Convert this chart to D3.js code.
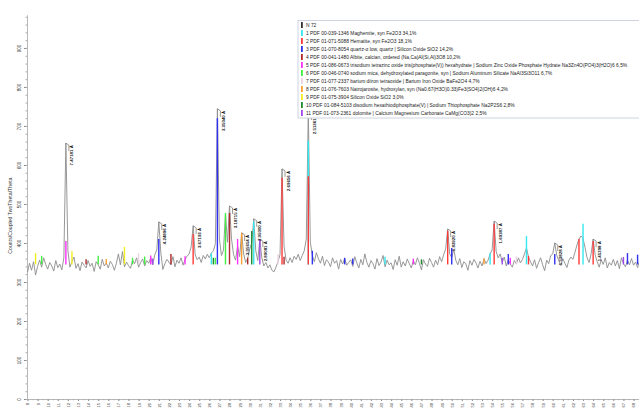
<!DOCTYPE html>
<html>
<head>
<meta charset="utf-8">
<script src="https://cdn.jsdelivr.net/npm/d3@7"></script>
<style>
  body { margin: 0; background: #fff; }
  svg { display: block; font-family: "Liberation Sans", Arial, sans-serif; }
</style>
</head>
<body>
<script>
// measured pattern, 2Theta from 8 deg in 0.2 deg steps
const thetaStart = 8;
const thetaStep = 0.2;
const counts = [
  325, 348, 330, 352, 318, 340, 356, 338, 362, 345,
  333, 350, 341, 328, 355, 337, 346, 331, 362, 656,
  380, 338, 352, 364, 335, 347, 329, 351, 343, 336,
  355, 340, 348, 327, 352, 344, 333, 358, 341, 349,
  336, 353, 345, 330, 348, 372, 344, 378, 339, 351,
  342, 335, 356, 347, 362, 338, 350, 359, 341, 355,
  348, 363, 344, 370, 382, 454, 375, 332, 347, 358,
  351, 344, 365, 339, 356, 348, 362, 343, 358, 366,
  372, 390, 444, 370, 357, 364, 350, 368, 359, 371,
  362, 374, 380, 398, 744, 410, 368, 381, 474, 402,
  495, 410, 370, 356, 392, 365, 426, 372, 350, 361,
  384, 400, 462, 380, 355, 410, 362, 341, 350, 336,
  344, 330, 326, 338, 352, 370, 590, 392, 356, 348,
  362, 350, 366, 358, 371, 355, 368, 380, 410, 736,
  402, 368, 352, 375, 360, 348, 366, 342, 357, 351,
  339, 362, 348, 355, 333, 358, 346, 361, 343, 350,
  357, 340, 365, 349, 336, 358, 344, 372, 350, 338,
  355, 347, 333, 360, 342, 351, 368, 339, 356, 344,
  349, 332, 357, 343, 366, 338, 352, 341, 359, 347,
  336, 355, 344, 362, 348, 331, 357, 346, 340, 361,
  350, 338, 356, 344, 365, 352, 370, 385, 436, 372,
  362, 384, 356, 344, 360, 337, 352, 346, 330, 355,
  343, 358, 349, 336, 353, 341, 360, 347, 356, 372,
  382, 456, 378, 362, 372, 350, 364, 341, 357, 346,
  338, 355, 346, 362, 349, 358, 372, 387, 364, 352,
  341, 357, 335, 350, 362, 344, 329, 356, 347, 368,
  372, 400, 368, 355, 342, 360, 348, 337, 356, 364,
  358, 376, 395, 410, 418, 412, 388, 362, 350, 372,
  410, 370, 352, 338, 357, 345, 362, 336, 350, 343,
  358, 341, 355, 334, 362, 347, 339, 356, 344, 360,
  343, 351, 337, 355
];
const background = 345;

const yTicks = [0, 100, 200, 300, 400, 500, 600, 700, 800, 900];

const phaseNames = [
  "N 72",
  "1 PDF 00-039-1346 Maghemite, syn Fe2O3 34,1%",
  "2 PDF 01-071-5088 Hematite, syn Fe2O3 18,1%",
  "3 PDF 01-070-8054 quartz-α low, quartz | Silicon Oxide SiO2 14,2%",
  "4 PDF 00-041-1480 Albite, calcian, ordered (Na,Ca)Al(Si,Al)3O8 10,2%",
  "5 PDF 01-086-0673 trisodium tetrazinc oxide tris(phosphate(V)) hexahydrate | Sodium Zinc Oxide Phosphate Hydrate Na3Zn4O(PO4)3(H2O)6 6,5%",
  "6 PDF 00-046-0740 sodium mica, dehydroxylated paragonite, syn | Sodium Aluminum Silicate NaAl3Si3O11 6,7%",
  "7 PDF 01-077-2337 barium diiron tetraoxide | Barium Iron Oxide BaFe2O4 4,7%",
  "8 PDF 01-076-7603 Natrojarosite, hydroxylan, syn (Na0.67(H3O)0.33)Fe3(SO4)2(OH)6 4,2%",
  "9 PDF 01-075-3904 Silicon Oxide SiO2 3,0%",
  "10 PDF 01-084-5103 disodium hexathiodiphosphate(V) | Sodium Thiophosphate Na2P2S6 2,8%",
  "11 PDF 01-073-2361 dolomite | Calcium Magnesium Carbonate CaMg(CO3)2 2,5%"
];
const phaseColors = ["#333333", "#33e8f0", "#ff3838", "#3030f0", "#b02828", "#ff30ff",
  "#40f040", "#ecd4e6", "#ffa030", "#f0f020", "#208a30", "#a048f0"];

// stick patterns per phase: [2Theta, counts at stick top]
const sticks1 = [[26.2, 374], [30.4, 456], [35.8, 662], [43.4, 365], [53.8, 374], [57.4, 418], [63.0, 449]];
const sticks2 = [[24.4, 423], [33.2, 567], [35.8, 571], [49.6, 431], [54.2, 449], [57.6, 367], [62.6, 410], [64.0, 405]];
const sticks3 = [[21.0, 410], [26.8, 720], [36.2, 380], [39.4, 362], [40.2, 360], [50.0, 387], [55.6, 372], [60.2, 372], [67.4, 374], [68.4, 370]];
const sticks4 = [[13.8, 358], [22.2, 372], [28.0, 477], [29.8, 362], [33.4, 365]];
const sticks5 = [[11.8, 405], [20.2, 368], [23.6, 366], [28.8, 410], [46.2, 360], [55.8, 362]];
const sticks6 = [[9.4, 367], [15.0, 367], [18.4, 362], [19.6, 365], [26.6, 362], [27.6, 477]];
const sticks7 = [[19.0, 374], [32.8, 372], [56.4, 366]];
const sticks8 = [[15.8, 359], [29.2, 426], [53.2, 360]];
const sticks9 = [[8.8, 374], [12.4, 379], [17.6, 390]];
const sticks10 = [[26.4, 362], [30.2, 431], [47.0, 358]];
const sticks11 = [[20.4, 360], [31.0, 408], [55.0, 362], [67.0, 364]];
const phaseSticks = [[], sticks1, sticks2, sticks3, sticks4, sticks5, sticks6, sticks7, sticks8, sticks9, sticks10, sticks11];

// d-spacing labels
const peakTheta = [11.8, 21.0, 24.4, 26.8, 28.0, 29.2, 30.4, 31.0, 33.2, 35.8, 49.6, 54.2, 60.2, 64.0];
const peakText = ["7.47181 Å", "4.24896 Å", "3.67193 Å", "3.35040 Å", "3.18715 Å", "3.05654 Å", "2.95000 Å",
  "2.89081 Å", "2.69656 Å", "2.51361 Å", "1.83920 Å", "1.69387 Å", "1.53828 Å", "1.45298 Å"];

const width = 639, height = 409;

const x = d3.scaleLinear().domain([thetaStart, 68.6]).range([27.5, 639.6]);
const y = d3.scaleLinear().domain([0, 985]).range([399, 14.8]);

const pattern = counts.map((c, i) => ({t: thetaStart + i * thetaStep, c: c}));
const valueAt = t => counts[Math.round((t - thetaStart) / thetaStep)];

const svg = d3.select("body").append("svg").attr("width", width).attr("height", height);

// axes
const yAxis = svg.append("g")
  .attr("transform", "translate(27,0)")
  .call(d3.axisLeft(y).tickValues(yTicks).tickSize(3).tickSizeOuter(0));
yAxis.select(".domain").attr("stroke", "#b8b8b8");
yAxis.selectAll(".tick line").attr("stroke", "#888");
yAxis.selectAll(".tick text")
  .attr("font-size", "4.5px").attr("fill", "#333")
  .attr("transform", "rotate(-90)").attr("x", 0).attr("y", -6).attr("dy", 0)
  .attr("text-anchor", "middle");
svg.append("g")
  .attr("transform", "translate(27,0)")
  .call(d3.axisLeft(y).tickValues(d3.range(0, 985, 20)).tickSize(1.5).tickFormat(""))
  .call(g => g.select(".domain").remove())
  .selectAll("line").attr("stroke", "#aaa");

const xAxis = svg.append("g")
  .attr("transform", "translate(0,399)")
  .call(d3.axisBottom(x).tickValues(d3.range(8, 69, 1)).tickSize(2).tickSizeOuter(0));
xAxis.select(".domain").attr("stroke", "#b8b8b8");
xAxis.selectAll(".tick line").attr("stroke", "#888");
xAxis.selectAll(".tick text")
  .attr("font-size", "4px").attr("fill", "#333")
  .attr("transform", "rotate(-90)").attr("x", -4).attr("y", 0).attr("dy", "0.35em")
  .attr("text-anchor", "end");
svg.append("g")
  .attr("transform", "translate(0,399)")
  .call(d3.axisBottom(x).tickValues(d3.range(8, 68.6, 0.5)).tickSize(1.2).tickFormat(""))
  .call(g => g.select(".domain").remove())
  .selectAll("line").attr("stroke", "#aaa");

svg.append("text")
  .attr("transform", `translate(12,${y(470)}) rotate(-90)`)
  .attr("text-anchor", "middle")
  .attr("font-size", "5.2px").attr("fill", "#333")
  .text("Counts/Coupled TwoTheta/Theta");

// measured pattern
const line = d3.line().x(d => x(d.t)).y(d => y(d.c));
svg.append("path")
  .datum(pattern)
  .attr("fill", "none")
  .attr("stroke", "#8c8c8c")
  .attr("stroke-width", 0.9)
  .attr("stroke-linejoin", "round")
  .attr("d", line);

// phase sticks
phaseSticks.forEach((list, p) => {
  svg.append("g").selectAll("line")
    .data(list)
    .join("line")
    .attr("x1", d => x(d[0])).attr("x2", d => x(d[0]))
    .attr("y1", y(background)).attr("y2", d => y(d[1]))
    .attr("stroke", phaseColors[p])
    .attr("stroke-width", 1.4);
});

// peak labels
const labels = svg.append("g").selectAll("g")
  .data(peakTheta.map((t, i) => ({t: t, text: peakText[i]})))
  .join("g")
  .attr("transform", d => `translate(${x(d.t)},${y(valueAt(d.t))})`);
labels.append("path")
  .attr("d", "M0,0L3,2L3,8")
  .attr("fill", "none").attr("stroke", "#555").attr("stroke-width", 0.6);
labels.append("text")
  .attr("transform", "translate(7.5,2) rotate(-90)")
  .attr("text-anchor", "end")
  .attr("font-size", "4.4px").attr("font-weight", "bold").attr("fill", "#111")
  .text(d => d.text);

// legend
const legend = svg.append("g").attr("transform", "translate(298,20.5)");
legend.append("rect")
  .attr("width", 350).attr("height", 97.5)
  .attr("fill", "#fff").attr("stroke", "#c4c8dc").attr("stroke-width", 0.8);
const items = legend.selectAll("g.item")
  .data(phaseNames)
  .join("g").attr("class", "item")
  .attr("transform", (d, i) => `translate(0,${4.5 + i * 8})`);
items.append("rect")
  .attr("x", 3).attr("y", -3).attr("width", 1.8).attr("height", 6)
  .attr("fill", (d, i) => phaseColors[i]);
items.append("text")
  .attr("x", 8).attr("y", 0).attr("dy", "0.35em")
  .attr("font-size", "4.9px").attr("fill", "#222")
  .text(d => d);
</script>
</body>
</html>
